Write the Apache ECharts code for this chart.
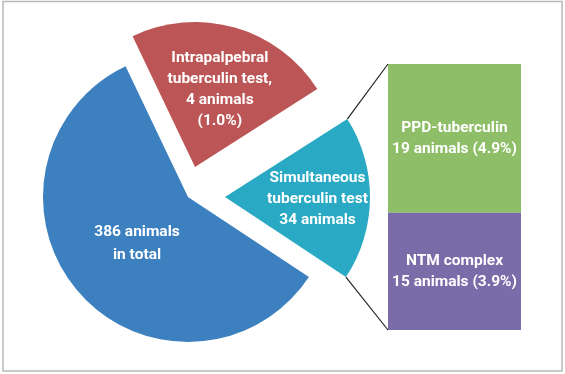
<!DOCTYPE html>
<html>
<head>
<meta charset="utf-8">
<script src="https://cdn.jsdelivr.net/npm/echarts@6/dist/echarts.min.js"></script>
<style>html,body{margin:0;padding:0;background:#fff}#c{width:565px;height:374px}</style>
</head>
<body>
<div id="c"></div>
<script>
// Pie slices (order clockwise from start angle); shares (degrees)
const sliceNames = ['Intrapalpebral\ntuberculin test,\n4 animals\n(1.0%)', 'Simultaneous\ntuberculin test\n34 animals', '386 animals\nin total'];
const sliceShares = [83, 66, 211];
// Breakdown bar of the simultaneous test
const barNames = ['PPD-tuberculin\n19 animals (4.9%)', 'NTM complex\n15 animals (3.9%)'];
const barValues = [19, 15];

// styles / layout
const sliceColors = ['#BC5555', '#2AA9C4', '#3D80BF'];
const barColors = ['#8FBE69', '#7A6BA9'];
const sliceCenters = [[195, 167], [225, 197], [188, 197]];
const sliceRadius = 145;
const startAngle = 115.5;
const labelShift = [[4, -5], [17, 1], [6, -3]];
const labelLH = [21, 21, 23];
const FONT = 'Roboto, "Liberation Sans", sans-serif';
const FS = 15.5, LH = 21;
const grid = {left: 388, top: 64, width: 133, height: 266};

const chart = echarts.init(document.getElementById('c'), null, {renderer: 'canvas'});

const pieSeries = sliceNames.map((_, i) => ({
  type: 'pie',
  silent: true,
  center: sliceCenters[i],
  radius: [0, sliceRadius],
  startAngle: startAngle,
  clockwise: true,
  avoidLabelOverlap: false,
  label: {
    show: true, position: 'inside', color: '#fff', fontFamily: FONT,
    fontWeight: 'bold', fontSize: FS, lineHeight: LH, formatter: '{b}', overflow: 'none'
  },
  labelLine: {show: false},
  labelLayout: (p) => p.dataIndex === i ? {dx: labelShift[i][0], dy: labelShift[i][1]} : {},
  data: sliceShares.map((v, j) => ({
    value: v,
    name: sliceNames[j],
    itemStyle: {color: j === i ? sliceColors[j] : 'rgba(0,0,0,0)'},
    label: {show: j === i, lineHeight: labelLH[j]}
  })),
  z: 2
}));

// connector lines: from cyan slice edges to bar corners
const cc = sliceCenters[1];
const total = sliceShares.reduce((a, b) => a + b, 0);
const a1 = (startAngle - sliceShares[0] / total * 360) * Math.PI / 180;
const a2 = (startAngle - (sliceShares[0] + sliceShares[1]) / total * 360) * Math.PI / 180;
const p1 = [cc[0] + sliceRadius * Math.cos(a1), cc[1] - sliceRadius * Math.sin(a1)];
const p2 = [cc[0] + sliceRadius * Math.cos(a2), cc[1] - sliceRadius * Math.sin(a2)];

chart.setOption({
  animation: false,
  grid: grid,
  xAxis: {type: 'category', data: ['x'], show: false},
  yAxis: {type: 'value', min: 0, max: barValues[0] + barValues[1], show: false, inverse: true},
  series: [
    ...pieSeries,
    ...barNames.map((n, k) => ({
      type: 'bar', stack: 's', barWidth: '100%', silent: true,
      itemStyle: {color: barColors[k]},
      label: {show: true, position: 'inside', formatter: n, color: '#fff', fontFamily: FONT,
        fontWeight: 'bold', fontSize: FS, lineHeight: LH, overflow: 'none', width: 200},
      data: [barValues[k]]
    }))
  ],
  graphic: [
    {type: 'rect', shape: {x: 3, y: 1.5, width: 559, height: 369.5}, style: {fill: 'none', stroke: '#b8b8b8', lineWidth: 1.5}, z: 0},
    {type: 'line', shape: {x1: p1[0], y1: p1[1], x2: grid.left, y2: grid.top}, style: {stroke: '#222', lineWidth: 1.2}},
    {type: 'line', shape: {x1: p2[0], y1: p2[1], x2: grid.left, y2: grid.top + grid.height}, style: {stroke: '#222', lineWidth: 1.2}}
  ]
});
</script>
</body>
</html>
